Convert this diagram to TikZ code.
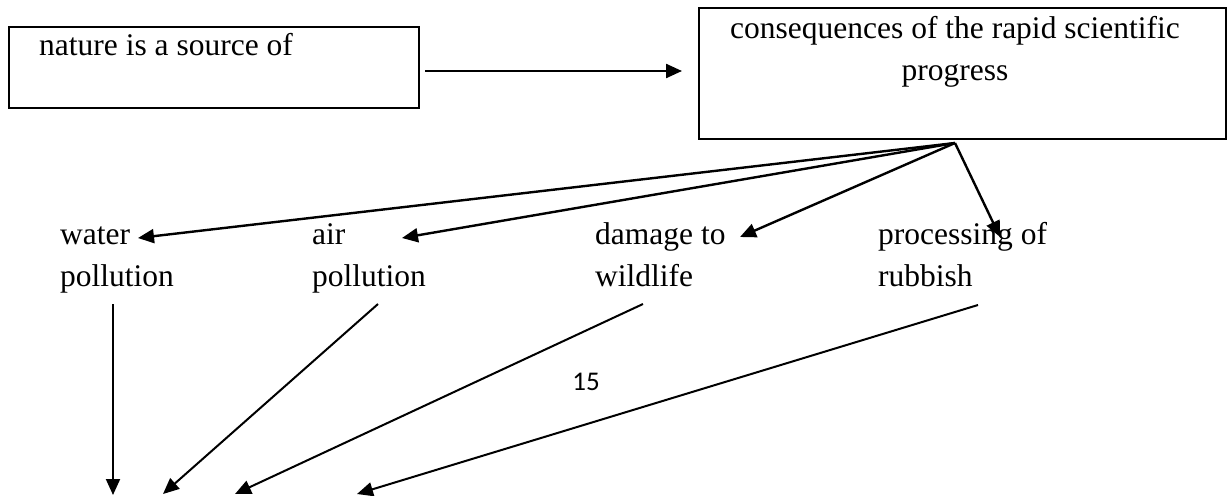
\documentclass[tikz,border=0pt]{standalone}
\usepackage{fontspec}
\setmainfont{Liberation Serif}
\newfontfamily\calib{Carlito}
\usetikzlibrary{arrows.meta}
\tikzset{
  box/.style={draw, line width=2.4pt, inner sep=0pt},
  lbl/.style={anchor=base west, inner sep=0pt, font=\fontsize{31.5}{43}\selectfont},
  ctr/.style={anchor=base, inner sep=0pt, font=\fontsize{31.5}{43}\selectfont},
  arr/.style={-{Triangle[length=16pt,width=14pt]}, line width=2.4pt},
  arrthin/.style={-{Triangle[length=16pt,width=14pt]}, line width=2pt}
}
\begin{document}
\begin{tikzpicture}[x=1pt,y=-1pt]
\useasboundingbox (0,0) rectangle (1228,495);
% boxes
\node[box, minimum width=410pt, minimum height=81pt] (b1) at (214,67.5) {};
\node[lbl] (t1) at (39,56) {nature is a source of};
\node[box, minimum width=527pt, minimum height=131pt] (b2) at (962.5,73.5) {};
\node[ctr] (t2a) at (955,38) {consequences of the rapid scientific};
\node[ctr] (t2b) at (955,80) {progress};
% middle labels
\node[lbl] (w1) at (60,244) {water};
\node[lbl] (w2) at (60,286) {pollution};
\node[lbl] (a1) at (312,244) {air};
\node[lbl] (a2) at (312,286) {pollution};
\node[lbl] (d1) at (595,244) {damage to};
\node[lbl] (d2) at (595,286) {wildlife};
\node[lbl] (p1) at (878,244) {processing of};
\node[lbl] (p2) at (878,286) {rubbish};
\node[anchor=base, inner sep=0pt, font=\calib\fontsize{27}{32}\selectfont] (pg) at (586,390) {15};
% coordinates
\coordinate (hs) at (425,71);
\coordinate (he) at (682,71);
\coordinate (apex) at (955,143);
\coordinate (tw) at (138,238);
\coordinate (ta) at (402,238);
\coordinate (td) at (740,237);
\coordinate (tp) at (1000,237);
\coordinate (sw) at (113,304);
\coordinate (sa) at (378,304);
\coordinate (sd) at (643,304);
\coordinate (sp) at (978,305);
\coordinate (ew) at (113,495);
\coordinate (ea) at (163,494);
\coordinate (ed) at (235,494);
\coordinate (ep) at (357,494);
% arrows
\draw[arr] (hs) -- (he);
\draw[arr] (apex) -- (tw);
\draw[arr] (apex) -- (ta);
\draw[arr] (apex) -- (td);
\draw[arr] (apex) -- (tp);
\draw[arrthin] (sw) -- (ew);
\draw[arrthin] (sa) -- (ea);
\draw[arrthin] (sd) -- (ed);
\draw[arrthin] (sp) -- (ep);
\end{tikzpicture}
\end{document}
